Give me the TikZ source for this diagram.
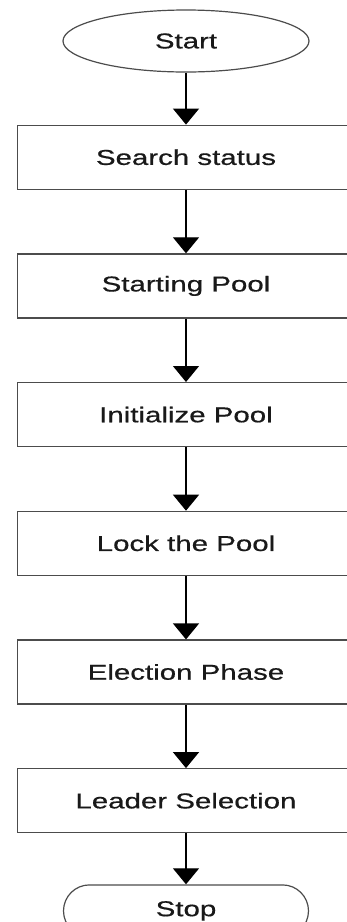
\documentclass[tikz,border=0pt]{standalone}
\usepackage{fontspec}
\newfontfamily\chartfont[FakeStretch=1.37,FakeBold=0.6]{Liberation Sans}
\usetikzlibrary{arrows.meta,positioning,shapes.geometric}

\begin{document}
\begin{tikzpicture}[x=1pt,y=1pt,->,>={Triangle[width=26pt,length=16pt]},line width=1.3pt,node distance=63.5pt,
    base node/.style={draw=black!70,line width=1.2pt,inner sep=0pt,text=black!90,font=\chartfont\fontsize{21.5}{24}\selectfont},
    term node/.style={base node,ellipse,minimum width=246pt,minimum height=62pt},
    stepbox node/.style={base node,rectangle,minimum width=337pt,minimum height=64pt},
    stop node/.style={base node,rectangle,rounded corners=26pt,minimum width=245pt,minimum height=52pt}
    ]
  \useasboundingbox (0,0) rectangle (346,-922);

  \node[term node]    (start)  at (186,-41) {Start};
  \node[stepbox node] (search) [below=52pt of start] {Search status};
  \node[stepbox node] (pool)   [below=of search] {Starting Pool};
  \node[stepbox node] (init)   [below=of pool] {Initialize Pool};
  \node[stepbox node] (lock)   [below=of init] {Lock the Pool};
  \node[stepbox node] (elect)  [below=of lock] {Election Phase};
  \node[stepbox node] (leader) [below=of elect] {Leader Selection};
  \node[stop node]    (stop)   [below=51pt of leader] {Stop};

  \path (start) edge (search)
        (search) edge (pool)
        (pool) edge (init)
        (init) edge (lock)
        (lock) edge (elect)
        (elect) edge (leader)
        (leader) edge (stop);

\end{tikzpicture}
\end{document}
